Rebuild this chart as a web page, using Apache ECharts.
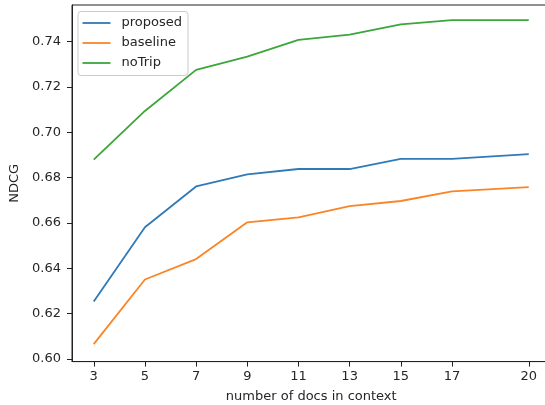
<!DOCTYPE html>
<html>
<head>
<meta charset="utf-8">
<script src="https://cdn.jsdelivr.net/npm/echarts@6/dist/echarts.min.js"></script>
<style>
html,body{margin:0;padding:0;background:#fff;}
#chart{width:545px;height:405px;}
</style>
</head>
<body>
<div id="chart"></div>
<script>
const docs = [3, 5, 7, 9, 11, 13, 15, 17, 20];
const proposed = [0.6254, 0.6581, 0.6761, 0.6814, 0.6838, 0.6838, 0.6883, 0.6883, 0.6904];
const baseline = [0.6066, 0.6351, 0.6441, 0.6603, 0.6625, 0.6674, 0.6697, 0.6739, 0.6758];
const noTrip = [0.6879, 0.7094, 0.7275, 0.7333, 0.7407, 0.7430, 0.7476, 0.7494, 0.7494];
const yTicks = [0.60, 0.62, 0.64, 0.66, 0.68, 0.70, 0.72, 0.74];
const xTicks = [3, 5, 7, 9, 11, 13, 15, 17, 20];

const pair = (arr) => docs.map((d, i) => [d, arr[i]]);
const font = 'DejaVu Sans';
const textColor = '#262626';
const colors = ['#2f7ab8', '#fb8526', '#3ca63c'];

const chart = echarts.init(document.getElementById('chart'), null, {renderer: 'canvas'});
chart.setOption({
  animation: false,
  backgroundColor: '#ffffff',
  grid: {
    left: 72, top: 5, width: 478.5, height: 356.6,
    outerBoundsMode: 'none',
    containLabel: false,
    show: true, borderColor: '#222', borderWidth: 1, backgroundColor: 'transparent'
  },
  legend: {
    orient: 'vertical',
    left: 78, top: 11.5,
    padding: [3.5, 6, 4.5, 4.5],
    itemGap: 4,
    itemWidth: 28,
    itemHeight: 1.8,
    icon: 'rect',
    backgroundColor: 'rgba(255,255,255,0.85)',
    borderColor: '#cccccc',
    borderWidth: 1,
    borderRadius: 3,
    textStyle: {fontFamily: font, fontSize: 13, color: textColor, lineHeight: 16, padding: [0, 0, 0, 6]},
    data: ['proposed', 'baseline', 'noTrip']
  },
  xAxis: {
    type: 'value',
    min: 2.15, max: 20.85,
    name: 'number of docs in context',
    nameLocation: 'middle',
    nameGap: 28.5,
    nameTextStyle: {fontFamily: font, fontSize: 13, color: textColor},
    splitLine: {show: false},
    axisLine: {show: true, lineStyle: {color: '#222', width: 1}},
    axisTick: {show: true, inside: false, length: 5, lineStyle: {color: '#222', width: 1}, customValues: xTicks},
    axisLabel: {fontFamily: font, fontSize: 13, color: textColor, margin: 9, customValues: xTicks, formatter: (v) => String(v)}
  },
  yAxis: {
    type: 'value',
    min: 0.5989, max: 0.7561,
    name: 'NDCG',
    nameLocation: 'middle',
    nameGap: 46,
    nameTextStyle: {fontFamily: font, fontSize: 13, color: textColor},
    splitLine: {show: false},
    axisLine: {show: true, lineStyle: {color: '#222', width: 1}},
    axisTick: {show: true, inside: false, length: 5, lineStyle: {color: '#222', width: 1}, customValues: yTicks},
    axisLabel: {fontFamily: font, fontSize: 13, color: textColor, margin: 11, customValues: yTicks, formatter: (v) => v.toFixed(2)}
  },
  series: [
    {name: 'proposed', type: 'line', data: pair(proposed), showSymbol: false, symbol: 'none',
     itemStyle: {color: colors[0]}, lineStyle: {color: colors[0], width: 1.8}},
    {name: 'baseline', type: 'line', data: pair(baseline), showSymbol: false, symbol: 'none',
     itemStyle: {color: colors[1]}, lineStyle: {color: colors[1], width: 1.8}},
    {name: 'noTrip', type: 'line', data: pair(noTrip), showSymbol: false, symbol: 'none',
     itemStyle: {color: colors[2]}, lineStyle: {color: colors[2], width: 1.8}}
  ]
});
</script>
</body>
</html>
